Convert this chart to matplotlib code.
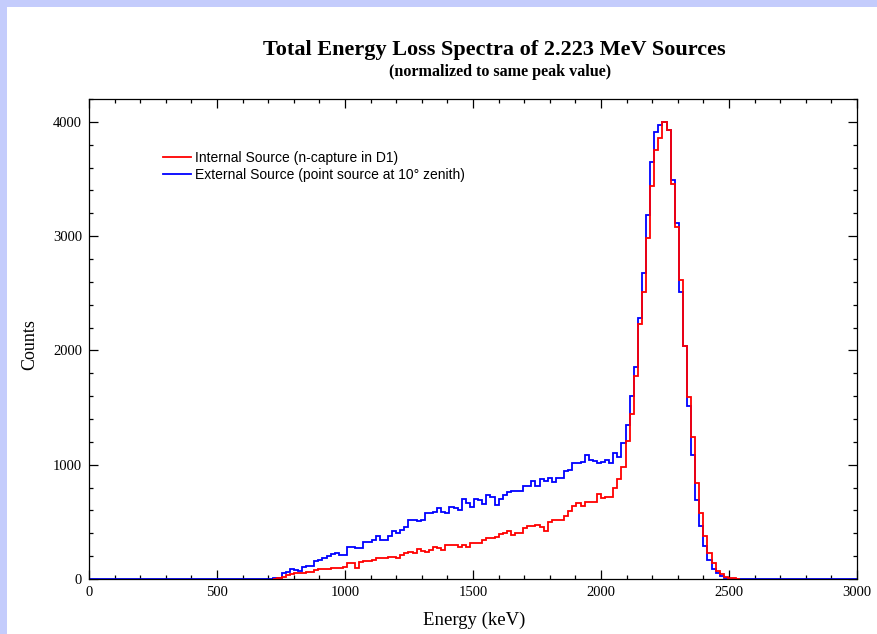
import numpy as np
import matplotlib.pyplot as plt
from matplotlib.patches import Rectangle
from matplotlib.ticker import MultipleLocator

# 16 keV bins from 0 to 3008 keV
bin_edges = np.arange(0, 3009, 16)

internal = [0] * 45 + [
    3, 6, 20, 35, 44, 50, 52, 56, 64, 64,
    79, 85, 86, 85, 93, 93, 99, 108, 137, 137,
    93, 152, 160, 160, 166, 181, 180, 182, 195, 190,
    181, 210, 225, 239, 225, 260, 245, 233, 254, 283,
    274, 254, 298, 298, 298, 277, 298, 283, 312, 318,
    318, 341, 356, 356, 365, 394, 400, 420, 385, 400,
    400, 443, 464, 464, 470, 458, 423, 502, 517, 517,
    518, 555, 598, 642, 663, 640, 677, 677, 677, 741,
    706, 721, 721, 800, 875, 983, 1208, 1444, 1777, 2229,
    2515, 2988, 3440, 3750, 3858, 4000, 3930, 3457, 3084, 2617,
    2040, 1590, 1240, 844, 575, 377, 231, 138, 70, 41,
    21, 10, 6, 3]
internal += [0] * (len(bin_edges) - 1 - len(internal))

external = [0] * 45 + [
    5, 8, 50, 62, 85, 80, 70, 108, 117, 118,
    160, 165, 182, 204, 216, 225, 210, 212, 277, 280,
    268, 270, 327, 321, 341, 376, 340, 345, 376, 420,
    400, 429, 458, 516, 514, 507, 516, 575, 578, 590,
    618, 590, 581, 633, 625, 604, 700, 663, 633, 700,
    692, 654, 736, 715, 648, 700, 736, 765, 771, 771,
    772, 815, 814, 860, 814, 875, 858, 881, 846, 887,
    887, 948, 950, 1018, 1018, 1020, 1085, 1041, 1032, 1018,
    1020, 1041, 1012, 1100, 1065, 1188, 1348, 1605, 1853, 2282,
    2675, 3186, 3645, 3907, 3974, 4000, 3930, 3487, 3119, 2515,
    2040, 1517, 1086, 692, 464, 290, 167, 85, 50, 27,
    6, 3, 2]
external += [0] * (len(bin_edges) - 1 - len(external))

W, H = 878, 634
fig = plt.figure(figsize=(W / 100, H / 100), dpi=100, facecolor='#c4ccfc')
fig.add_artist(Rectangle((7 / W, 0), 1, 1 - 7 / H, transform=fig.transFigure,
                         facecolor='white', edgecolor='none', zorder=-1))

ax = fig.add_axes([89 / W, 1 - 579 / H, (857 - 89) / W, (579 - 99) / H])
ax.set_facecolor('white')

ax.stairs(external, bin_edges, baseline=None, color='blue', lw=1.3,
          label='External Source (point source at 10\u00b0 zenith)', zorder=2)

# the internal spectrum is only drawn where it has counts, on top of the blue one
nz = np.nonzero(internal)[0]
lo, hi = nz[0], nz[-1] + 1
ax.stairs(internal[lo:hi], bin_edges[lo:hi + 1], baseline=0, color='red', lw=1.3,
          label='Internal Source (n-capture in D1)', zorder=3)

ax.set_xlim(0, 3000)
ax.set_ylim(0, 4200)
ax.set_xticks(range(0, 3001, 500))
ax.set_yticks(range(0, 4001, 1000))
ax.xaxis.set_minor_locator(MultipleLocator(100))
ax.yaxis.set_minor_locator(MultipleLocator(200))
ax.tick_params(which='both', direction='in', top=True, right=True, width=0.9)
ax.tick_params(which='major', length=6.5, labelsize=10.5, pad=5)
ax.tick_params(which='minor', length=3.2)
for lab in ax.get_xticklabels() + ax.get_yticklabels():
    lab.set_family('Liberation Serif')
for sp in ax.spines.values():
    sp.set_linewidth(0.9)

handles, labels = ax.get_legend_handles_labels()
ax.legend(handles[::-1], labels[::-1], loc='upper left',
          bbox_to_anchor=(0.0964, 0.892), frameon=False,
          borderpad=0, borderaxespad=0, handlelength=2.0, handletextpad=0.3,
          labelspacing=0.22, prop={'family': 'Liberation Sans', 'size': 10})

fig.text(494 / W, 1 - 50 / H, 'Total Energy Loss Spectra of 2.223 MeV Sources',
         ha='center', va='center', fontsize=16, fontweight='bold',
         family='Liberation Serif')
fig.text(500 / W, 1 - 72 / H, '(normalized to same peak value)',
         ha='center', va='center', fontsize=11.6, fontweight='bold',
         family='Liberation Serif')
fig.text(30 / W, 1 - 345 / H, 'Counts', rotation=90, ha='center', va='center',
         fontsize=13, family='Liberation Serif')
fig.text(474 / W, 1 - 620 / H, 'Energy (keV)', ha='center', va='center',
         fontsize=13.5, family='Liberation Serif')

fig.savefig('out.png', dpi=100, facecolor=fig.get_facecolor())
